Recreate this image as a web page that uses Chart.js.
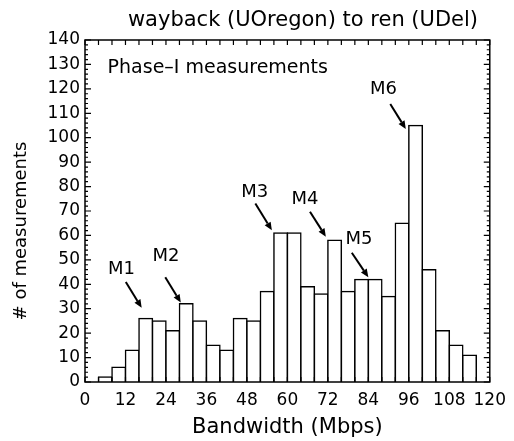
<!DOCTYPE html>
<html>
<head>
<meta charset="utf-8">
<script src="https://cdn.jsdelivr.net/npm/chart.js@4"></script>
<style>
  html, body { margin: 0; padding: 0; background: #fff; }
  #wrap { width: 514px; height: 441px; }
</style>
</head>
<body>
<div id="wrap"><canvas id="chart" width="514" height="441"></canvas></div>
<script>
// --- Data ---
const binStarts = [0,4,8,12,16,20,24,28,32,36,40,44,48,52,56,60,64,68,72,76,80,84,88,92,96,100,104,108,112,116];
const counts    = [0,2,6,13,26,25,21,32,25,15,13,26,25,37,61,61,39,36,58,37,42,42,35,65,105,46,21,15,11,0];
const binWidth = 4;
const xTicks = [0,12,24,36,48,60,72,84,96,108,120];
const yTicks = [0,10,20,30,40,50,60,70,80,90,100,110,120,130,140];

// labels M1..M6: label pos and arrow (from -> to), in data units
const markNames = ['M1','M2','M3','M4','M5','M6'];
const markLabelX = [10.8, 24.0, 50.3, 65.2, 81.2, 88.5];
const markLabelY = [46, 51.6, 77.5, 74.8, 58.4, 119.8];
const arrowFrom = [[12.1,40.9],[23.8,42.9],[50.5,73.1],[66.7,69.7],[79.1,52.9],[90.5,113.8]];
const arrowTo   = [[16.8,30.4],[28.4,32.5],[55.4,62.1],[71.4,59.5],[84.0,42.9],[95.1,103.6]];

const FONT = '"DejaVu Sans", sans-serif';

// --- Frame, inward ticks, titles and annotations ---
const decor = {
  id: 'decor',
  afterDatasetsDraw(chart){
    const c = chart.ctx, a = chart.chartArea;
    const xs = chart.scales.x, ys = chart.scales.y;
    c.save();
    c.strokeStyle = '#000';
    c.lineWidth = 1.5;
    c.strokeRect(a.left, a.top, a.right - a.left, a.bottom - a.top);

    c.lineWidth = 1.2;
    c.beginPath();
    for(let v = 0; v <= 140; v += 2){
      const y = ys.getPixelForValue(v);
      const len = v % 10 === 0 ? 6 : 3;
      c.moveTo(a.left, y); c.lineTo(a.left + len, y);
      c.moveTo(a.right, y); c.lineTo(a.right - len, y);
    }
    for(let v = 0; v <= 120; v += 4){
      const x = xs.getPixelForValue(v);
      c.moveTo(x, a.top); c.lineTo(x, a.top + 5);
      c.moveTo(x, a.bottom); c.lineTo(x, a.bottom - 5);
    }
    c.stroke();

    // title + y axis title
    c.fillStyle = '#000';
    c.textAlign = 'center';
    c.textBaseline = 'middle';
    c.font = '21px ' + FONT;
    c.fillText('wayback (UOregon) to ren (UDel)', 303, 21);
    c.save();
    c.translate(21, 231);
    c.rotate(-Math.PI/2);
    c.font = '18px ' + FONT;
    c.fillText('# of measurements', 0, 0);
    c.restore();

    c.textAlign = 'left';
    c.font = '19px ' + FONT;
    c.fillText('Phase\u2013I measurements', xs.getPixelForValue(6.7), ys.getPixelForValue(128.5));

    // M labels with arrows
    c.textAlign = 'center';
    c.font = '18px ' + FONT;
    markNames.forEach((name, i) => {
      c.fillText(name, xs.getPixelForValue(markLabelX[i]), ys.getPixelForValue(markLabelY[i]));
      const x1 = xs.getPixelForValue(arrowFrom[i][0]), y1 = ys.getPixelForValue(arrowFrom[i][1]);
      const x2 = xs.getPixelForValue(arrowTo[i][0]),   y2 = ys.getPixelForValue(arrowTo[i][1]);
      const ang = Math.atan2(y2 - y1, x2 - x1);
      const hl = 8, hw = 3.5;
      c.lineWidth = 2;
      c.beginPath();
      c.moveTo(x1, y1);
      c.lineTo(x2 - hl*Math.cos(ang), y2 - hl*Math.sin(ang));
      c.stroke();
      c.beginPath();
      c.moveTo(x2, y2);
      c.lineTo(x2 - hl*Math.cos(ang) + hw*Math.sin(ang), y2 - hl*Math.sin(ang) - hw*Math.cos(ang));
      c.lineTo(x2 - hl*Math.cos(ang) - hw*Math.sin(ang), y2 - hl*Math.sin(ang) + hw*Math.cos(ang));
      c.closePath();
      c.fill();
    });
    c.restore();
  }
};

new Chart(document.getElementById('chart').getContext('2d'), {
  type: 'bar',
  data: {
    datasets: [{
      data: binStarts.map((s, i) => ({ x: s + binWidth/2, y: counts[i] })),
      backgroundColor: '#fff',
      borderColor: '#000',
      borderWidth: 1.5,
      inflateAmount: 0.75,   // so neighbouring borders overlap into one line
      barPercentage: 1,
      categoryPercentage: 1
    }]
  },
  options: {
    responsive: false,
    animation: false,
    layout: { padding: { top: 40, right: 20, left: 0, bottom: 0 } },
    plugins: { legend: { display: false }, tooltip: { enabled: false } },
    scales: {
      x: {
        type: 'linear', min: 0, max: 120, offset: false,
        afterBuildTicks(s){ s.ticks = xTicks.map(v => ({ value: v })); },
        afterFit(s){ s.height = 59; },
        grid: { display: false, drawTicks: false, offset: false },
        border: { display: false },
        ticks: { color: '#000', font: { family: FONT, size: 17 }, padding: 8, maxRotation: 0, autoSkip: false },
        title: { display: true, text: 'Bandwidth (Mbps)', color: '#000', font: { family: FONT, size: 21 }, padding: { top: 0, bottom: 1 } }
      },
      y: {
        min: 0, max: 140,
        afterBuildTicks(s){ s.ticks = yTicks.map(v => ({ value: v })); },
        afterFit(s){ s.width = 85; },
        grid: { display: false, drawTicks: false },
        border: { display: false },
        ticks: { color: '#000', font: { family: FONT, size: 17 }, padding: 5, autoSkip: false }
      }
    }
  },
  plugins: [decor]
});
</script>
</body>
</html>
